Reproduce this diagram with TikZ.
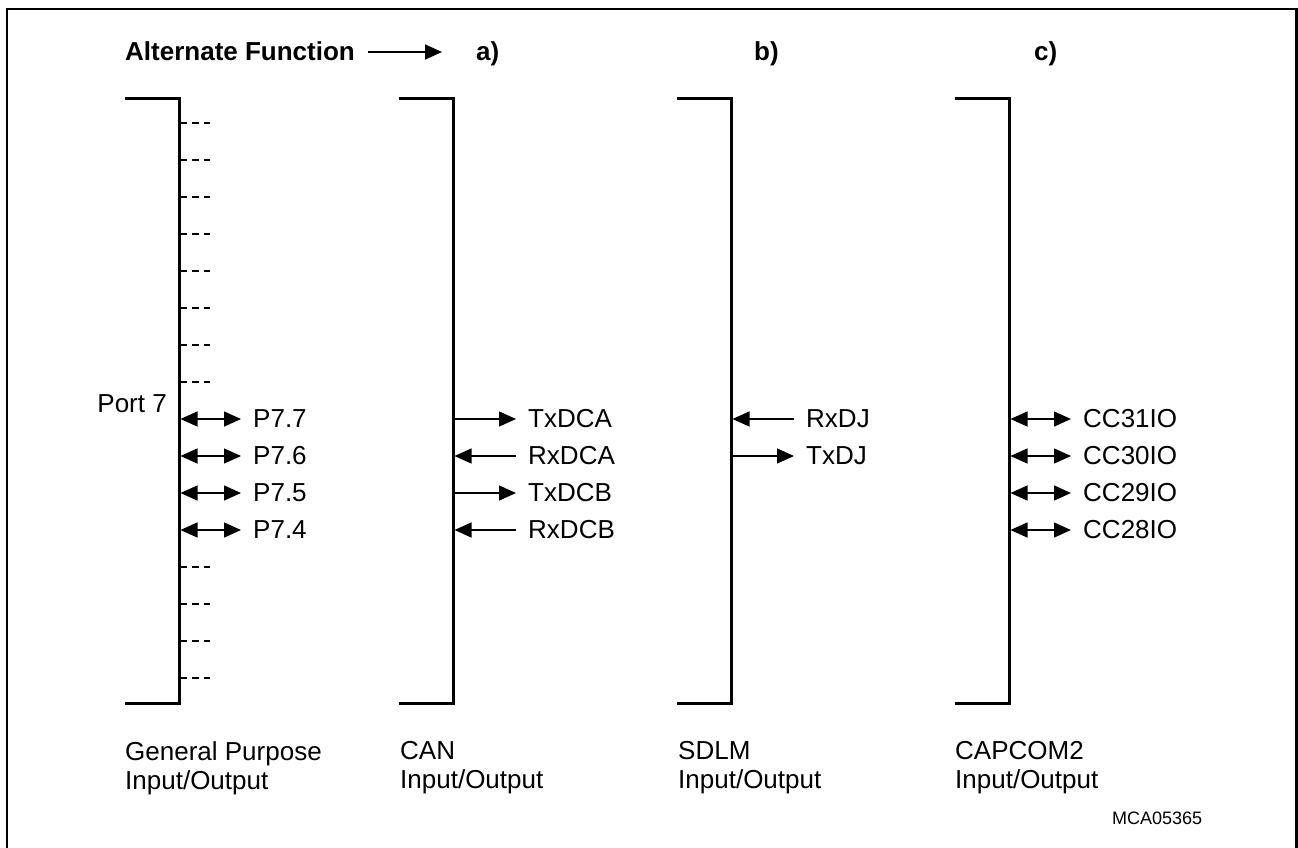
\documentclass[tikz,border=0pt]{standalone}
\usepackage{fontspec}
\setmainfont{Liberation Sans}
\usetikzlibrary{arrows.meta}

\begin{document}
\begin{tikzpicture}[x=1pt,y=-1pt,>={Triangle[length=17pt,width=15pt]},
  rail/.style={line width=3pt},
  sig/.style={line width=1.3pt,->,shorten >=12pt},
  rsig/.style={line width=1.3pt,->,shorten <=12pt},
  bidir/.style={line width=1.3pt,<->,shorten >=12pt},
  nc/.style={line width=1.3pt,dash pattern=on 6.5pt off 5pt},
  lbl/.style={font=\fontsize{26}{30}\selectfont,inner sep=0pt,anchor=west},
  head/.style={font=\fontsize{26}{30}\selectfont\bfseries,inner sep=0pt,anchor=base west},
  colcap/.style={font=\fontsize{26}{29}\selectfont,inner sep=0pt,anchor=north west,align=left}]
\useasboundingbox (0,0) rectangle (1298,847);
% frame
\draw[line width=2.5pt] (7,850) -- (7,9) -- (1296.5,9) -- (1296.5,850);

% heading
\node[head] (alt) at (125,60) {Alternate Function};
\coordinate (altend) at (442,52);
\draw[line width=1.3pt,->] (alt.east |- altend) ++(13,0) -- (altend);
\node[head] (ha) at (476,60) {a)};
\node[head] (hb) at (754,60) {b)};
\node[head] (hc) at (1034,60) {c)};

% port brackets
\foreach \x in {179,453,731,1009}
  \draw[rail] (\x-54,98) -- (\x,98) -- (\x,703) -- (\x-54,703);

% unused pins of port 7
\foreach \y in {123,160,...,382}
  \draw[nc] (180.5,\y) -- (211,\y);
\foreach \y in {567,604,641,678}
  \draw[nc] (180.5,\y) -- (211,\y);

% general purpose I/O
\node[lbl,anchor=base east] (port) at (167,412) {Port 7};
\foreach \n/\y in {7/419,6/456,5/493,4/530} {
  \coordinate (g\n) at (180.5,\y);
  \node[lbl] (p\n) at (253,\y) {P7.\n};
  \draw[bidir] (g\n) -- (p\n.west);
}

% CAN
\coordinate (a1) at (454.5,419);
\coordinate (a2) at (454.5,456);
\coordinate (a3) at (454.5,493);
\coordinate (a4) at (454.5,530);
\node[lbl] (txa) at (528,419) {TxDCA};
\node[lbl] (rxa) at (528,456) {RxDCA};
\node[lbl] (txb) at (528,493) {TxDCB};
\node[lbl] (rxb) at (528,530) {RxDCB};
\draw[sig] (a1) -- (txa.west);
\draw[rsig] (rxa.west) -- (a2);
\draw[sig] (a3) -- (txb.west);
\draw[rsig] (rxb.west) -- (a4);

% SDLM
\coordinate (b1) at (732.5,419);
\coordinate (b2) at (732.5,456);
\node[lbl] (rxj) at (806,419) {RxDJ};
\node[lbl] (txj) at (806,456) {TxDJ};
\draw[rsig] (rxj.west) -- (b1);
\draw[sig] (b2) -- (txj.west);

% CAPCOM2
\foreach \n/\y in {31/419,30/456,29/493,28/530} {
  \coordinate (c\n) at (1010.5,\y);
  \node[lbl] (cc\n) at (1083,\y) {CC\n IO};
  \draw[bidir] (c\n) -- (cc\n.west);
}

% captions
\node[colcap] (capg) at (125,741) {General Purpose\\Input/Output};
\node[colcap] (capa) at (400,741) {CAN\\Input/Output};
\node[colcap] (capb) at (678,741) {SDLM\\Input/Output};
\node[colcap] (capc) at (955,741) {CAPCOM2\\Input/Output};
\node[font=\fontsize{18}{20}\selectfont,inner sep=0pt,anchor=base west] (fig)
  at (1112,824) {MCA05365};
\end{tikzpicture}
\end{document}
